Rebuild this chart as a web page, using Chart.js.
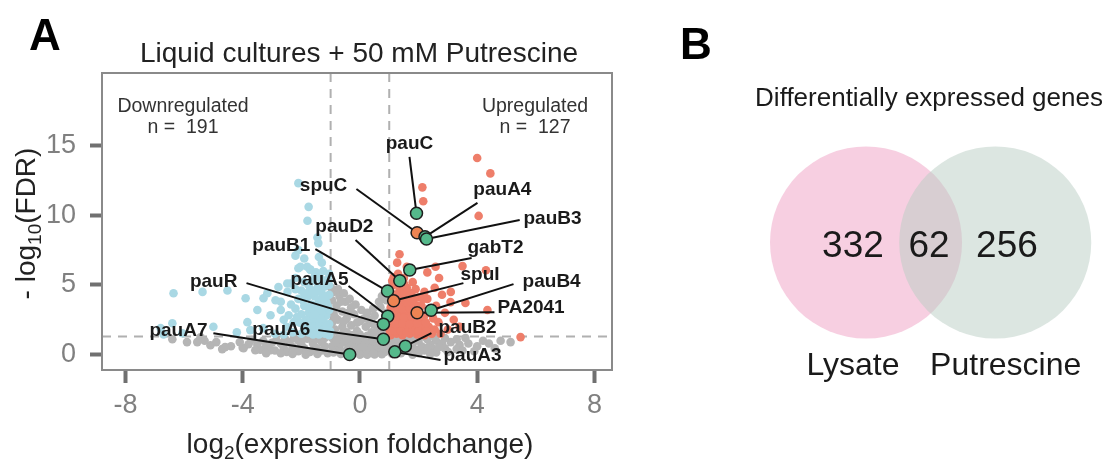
<!DOCTYPE html>
<html>
<head>
<meta charset="utf-8">
<script src="https://cdn.jsdelivr.net/npm/chart.js@4.4.1/dist/chart.umd.min.js"></script>
<style>
  html, body { margin: 0; padding: 0; background: #fff; }
  #wrap { position: relative; width: 1114px; height: 459px; overflow: hidden; }
  #volcano { position: absolute; left: 0; top: 0; }
  #venn { position: absolute; left: 650px; top: 0; }
</style>
</head>
<body>
<div id="wrap">
  <canvas id="volcano" width="650" height="459"></canvas>
  <canvas id="venn" width="464" height="459"></canvas>
</div>
<script>
/* panel A: volcano plot */
const FONT = '"Liberation Sans", Arial, sans-serif';
Chart.defaults.font.family = FONT;

const xTicks = [-8, -4, 0, 4, 8];
const yTicks = [0, 5, 10, 15];
const fcCut = 1;
const fdrCut = 1.3;
const nDown = 191;
const nUp = 127;

// non significant genes [log2FC, -log10 FDR]
const greyPts = [
  [-0.9,4.5],[-0.7,4.2],[-0.95,3.9],[-0.5,3.8],[-0.8,3.5],[-0.3,3.4],[-0.6,3.1],[-0.9,3.0],[-0.2,2.9],
  [-0.45,2.6],[-0.75,2.5],[0.0,2.4],[-0.95,2.3],[-0.3,2.1],[-0.6,2.0],[0.2,2.0],[-0.85,1.8],[-0.1,1.7],
  [-0.45,1.6],[0.4,1.6],[0.6,1.9],[0.8,2.4],[0.9,3.0],[0.7,3.4],[0.9,3.9],[0.85,4.4],[0.5,2.8],[0.3,2.5],
  [0.75,1.6],[0.95,1.3],[-0.95,1.2],[-0.7,1.3],[-0.4,1.2],[-0.15,1.1],[0.1,1.2],[0.35,1.1],[0.6,1.2],
  [0.85,1.0],[-0.85,0.9],[-0.55,0.9],[-0.25,0.8],[0.05,0.8],[0.3,0.7],[0.55,0.8],[0.8,0.7],[-0.95,0.6],
  [-0.7,0.6],[-0.4,0.5],[-0.1,0.45],[0.2,0.4],[0.45,0.5],[0.7,0.4],[0.95,0.5],[-0.8,0.3],[-0.5,0.25],
  [-0.2,0.15],[0.1,0.1],[0.35,0.2],[0.6,0.15],[0.85,0.2],[-0.65,0.05],[-0.3,0.0],[0.0,0.0],[0.25,0.0],
  [0.5,0.02],[0.75,0.03],
  [-0.98,4.8],[-0.75,4.7],[-0.55,4.4],[-0.35,4.0],[-0.15,3.6],[0.05,3.2],[0.25,3.0],[0.45,3.3],[0.65,3.8],
  [0.95,4.7],[0.75,4.2],[-0.65,3.8],[-0.4,3.0],[-0.85,2.7],[-0.55,2.4],[-0.1,2.3],[0.15,2.6],[0.45,2.2],
  [0.7,2.1],[0.92,2.0],[-0.95,1.55],[-0.6,1.5],[-0.3,1.4],[0.0,1.45],[0.25,1.35],[0.5,1.45],[0.75,1.35],
  [-0.8,1.05],[-0.45,1.0],[0.0,0.95],[0.2,0.85],[0.45,0.95],[0.65,1.0],[0.95,0.8],[-0.3,0.6],[0.1,0.6],
  [0.35,0.4],[0.85,0.45],[-0.9,0.15],[0.45,0.1],
  [-1.2,1.2],[-1.5,1.1],[-1.8,1.15],[-2.1,1.0],[-1.3,0.9],[-1.6,0.8],[-2.0,0.75],[-2.4,0.9],[-2.7,0.8],
  [-3.0,0.85],[-1.2,0.6],[-1.5,0.5],[-1.9,0.45],[-2.3,0.55],[-2.6,0.5],[-3.2,0.6],[-3.5,0.7],[-3.8,0.75],
  [-1.3,0.3],[-1.7,0.2],[-2.1,0.25],[-2.9,0.3],[-3.4,0.35],[-4.0,0.5],[-4.4,0.6],[-4.7,0.4],[-5.1,0.68],
  [-5.55,0.9],[-5.44,1.25],[-5.9,0.9],[-6.4,1.1],[-1.1,0.1],[-2.5,0.2],[-3.05,0.32],[-3.57,0.32],
  [-3.97,0.46],[-4.6,0.54],
  [-1.4,1.3],[-1.65,1.25],[-1.95,1.25],[-2.25,1.2],[-2.55,1.1],[-2.85,1.05],[-3.3,1.0],[-3.7,1.05],
  [-4.1,0.9],[-4.9,0.9],[-5.3,1.0],[-1.45,0.05],[-1.85,0.0],[-2.3,0.05],[-2.7,0.1],[-3.2,0.1],
  [1.1,1.2],[1.4,1.1],[1.7,1.15],[2.0,1.0],[2.3,1.1],[2.6,1.0],[1.2,0.8],[1.5,0.7],[1.8,0.8],[2.1,0.6],
  [2.4,0.7],[2.8,0.8],[3.1,0.9],[3.4,0.7],[3.7,0.8],[1.3,0.4],[1.6,0.3],[1.9,0.35],[2.2,0.3],[2.5,0.4],
  [2.9,0.45],[3.3,0.4],[4.0,0.6],[4.4,0.8],[4.8,1.0],[5.14,0.9],[1.1,0.05],[1.4,0.1],[2.0,0.1],[2.6,0.15],
  [3.0,0.2],
  [1.25,1.3],[1.6,1.25],[1.95,1.3],[2.25,1.25],[2.55,1.25],[2.9,1.2],[3.3,1.1],[3.6,1.2],[4.2,1.0],
  [1.7,0.55],[2.3,0.5],[2.7,0.55],[3.5,0.3],[3.9,0.25],[1.8,0.0],[2.4,0.05],[1.15,0.6],[4.6,0.45]
];

// downregulated genes
const downPts = [
  [-1.05,1.4],[-1.2,1.5],[-1.4,1.45],[-1.1,1.8],[-1.3,1.9],[-1.55,1.7],[-1.75,1.6],[-1.05,2.2],[-1.25,2.4],
  [-1.45,2.2],[-1.65,2.1],[-1.9,1.9],[-1.15,2.8],[-1.35,2.9],[-1.6,2.6],[-1.85,2.5],[-2.05,2.3],[-1.05,3.2],
  [-1.25,3.4],[-1.5,3.2],[-1.75,3.0],[-2.0,2.9],[-1.15,3.8],[-1.4,3.9],[-1.65,3.6],[-1.9,3.5],[-2.2,3.3],
  [-1.05,4.3],[-1.3,4.4],[-1.55,4.2],[-1.8,4.1],[-2.1,4.0],[-1.2,4.9],[-1.45,4.8],[-1.7,4.7],[-2.0,4.6],
  [-1.1,5.4],[-1.35,5.5],[-1.6,5.3],[-1.9,5.2],[-1.25,6.0],[-1.5,5.9],[-1.8,6.3],[-1.7,6.1],
  [-1.02,1.7],[-1.15,2.05],[-1.35,2.6],[-1.55,2.9],[-1.8,2.2],[-2.0,1.5],[-1.1,3.5],[-1.3,3.15],
  [-1.45,3.55],[-1.7,3.3],[-1.95,3.9],[-1.2,4.15],[-1.4,4.6],[-1.65,4.45],[-1.9,4.4],[-2.2,4.7],
  [-1.05,5.0],[-1.3,5.2],[-1.55,5.6],[-1.75,5.0],[-2.2,5.5],[-1.05,5.8],[-1.6,1.45],[-2.15,2.7],
  [-2.35,3.6],[-2.6,2.5],
  [-2.3,1.6],[-2.5,2.0],[-2.43,2.83],[-2.26,2.33],[-2.7,3.8],[-2.7,3.2],[-2.88,3.9],[-3.05,2.83],
  [-3.16,4.4],[-3.29,4.05],[-2.78,4.85],[-2.48,5.1],[-2.37,5.1],[-2.47,4.5],[-2.1,6.2],[-3.5,3.2],
  [-3.84,2.33],[-3.74,1.76],[-3.9,4.05],[-2.9,1.5],[-3.3,1.9],[-2.6,1.45],
  [-4.52,4.6],[-5.37,4.5],[-6.36,4.4],[-6.8,1.9],[-6.7,1.45],[-6.06,1.54],[-6.4,2.25],[-4.2,1.6],[-5.0,2.0],
  [-2.1,12.3],[-1.75,10.6],[-1.79,9.6],[-1.45,8.4],[-1.42,8.0],[-2.1,7.5],[-2.2,7.1],[-1.9,6.9],
  [-1.4,7.0],[-1.3,6.6],[-2.03,6.3],[-1.69,6.1]
];

// upregulated genes
const upPts = [
  [4.0,14.1],[4.45,13.0],[2.13,12.0],[2.16,11.0],[4.05,9.95],
  [1.27,6.6],[2.3,5.9],[2.58,6.3],[3.5,6.35],[4.3,6.05],[1.15,5.55],[3.09,3.77],[3.6,3.7],[4.35,3.2],
  [5.48,1.26],[2.68,2.33],[1.35,7.2],
  [1.05,1.4],[1.25,1.5],[1.45,1.4],[1.7,1.5],[1.95,1.45],[2.2,1.4],[2.45,1.5],[1.1,1.9],[1.35,2.0],
  [1.6,1.85],[1.85,2.0],[2.1,1.9],[2.35,2.0],[1.05,2.4],[1.3,2.5],[1.55,2.4],[1.8,2.5],[2.05,2.45],
  [2.5,2.6],[1.15,2.9],[1.4,3.0],[1.65,2.9],[1.9,3.2],[2.2,2.8],[1.05,3.4],[1.3,3.5],[1.55,3.4],
  [1.8,3.6],[2.1,3.5],[2.6,3.5],[1.2,4.0],[1.45,4.1],[1.7,3.9],[2.0,4.1],[2.3,4.0],[1.05,4.5],
  [1.35,4.6],[1.6,4.5],[1.9,4.7],[2.2,4.5],[1.15,5.0],[1.5,5.1],[1.8,5.2],[1.3,5.8],[2.8,4.3],
  [2.9,3.0],[3.2,2.5],[3.0,1.8],[2.75,1.5],[3.4,2.0],[1.6,6.3],
  [1.02,1.7],[1.2,1.7],[1.4,1.7],[1.6,1.6],[1.8,1.75],[2.0,1.7],[2.25,1.65],[2.55,1.8],[1.2,2.2],
  [1.45,2.25],[1.7,2.2],[1.95,2.25],[2.25,2.3],[1.25,2.75],[1.5,2.65],[1.75,2.75],[2.0,2.8],[2.4,3.0],
  [1.05,3.0],[1.2,3.25],[1.45,3.3],[1.7,3.3],[1.95,3.5],[1.1,3.75],[1.35,3.8],[1.6,3.75],[1.85,4.0],
  [2.15,4.0],[1.25,4.3],[1.5,4.35],[1.75,4.4],[1.1,5.3],[1.35,5.0],[1.6,4.8],[2.55,4.8],[3.1,4.5],
  [2.7,5.5],[1.5,5.5]
];

// labelled genes
const geneNames = ['pauC','spuC','pauA4','pauB3','gabT2','pauD2','pauB1','spuI','pauB4','PA2041',
                   'pauA5','pauR','pauA6','pauB2','pauA3','pauA7'];
const geneX = [1.93, 1.95, 2.22, 2.27, 1.70, 1.36, 0.94, 1.15, 2.43, 1.95, 0.95, 0.80, 0.80, 1.55, 1.19, -0.35];
const geneY = [10.14, 8.74, 8.45, 8.30, 6.07, 5.30, 4.56, 3.86, 3.19, 3.00, 2.76, 2.19, 1.11, 0.61, 0.20, 0.01];
const geneOrange = [0, 1, 0, 0, 0, 0, 0, 1, 0, 1, 0, 0, 0, 0, 0, 0];

// label placement: [text x, text y, align, line start x, line start y]
const labelLayout = [
  [1.69, 15.11, 'center', 1.69, 14.18],
  [-0.43, 12.1, 'right', -0.12, 11.88],
  [3.87, 11.81, 'left', 4.01, 10.88],
  [5.58, 9.73, 'left', 5.45, 9.66],
  [3.67, 7.65, 'left', 3.81, 6.93],
  [-0.53, 9.15, 'center', -0.15, 8.22],
  [-1.69, 7.79, 'right', -1.52, 7.57],
  [3.43, 5.71, 'left', 3.53, 5.13],
  [5.55, 5.2, 'left', 5.24, 5.06],
  [4.69, 3.34, 'left', 4.59, 3.05],
  [-0.39, 5.35, 'right', -0.39, 4.92],
  [-4.18, 5.2, 'right', -3.87, 5.13],
  [-1.69, 1.76, 'right', -1.42, 1.76],
  [2.68, 1.9, 'left', 2.44, 1.54],
  [2.85, -0.11, 'left', 2.75, -0.39],
  [-5.2, 1.69, 'right', -5.0, 1.54]
];

const toXY = pts => pts.map(p => ({ x: p[0], y: p[1] }));

function drawSubText(ctx, parts, x, y) {
  let total = 0;
  parts.forEach(p => { ctx.font = p[1] + 'px ' + FONT; total += ctx.measureText(p[0]).width; });
  let cx = x - total / 2;
  ctx.textAlign = 'left';
  parts.forEach(p => {
    ctx.font = p[1] + 'px ' + FONT;
    ctx.fillText(p[0], cx, y + p[2]);
    cx += ctx.measureText(p[0]).width;
  });
}

const volcanoDecor = {
  id: 'volcanoDecor',
  beforeDatasetsDraw(chart) {
    const { ctx, chartArea: a, scales: { x, y } } = chart;
    ctx.save();
    ctx.strokeStyle = '#b0b0b0';
    ctx.lineWidth = 2;
    ctx.setLineDash([9, 7]);
    [-fcCut, fcCut].forEach(v => {
      const px = x.getPixelForValue(v);
      ctx.beginPath(); ctx.moveTo(px, a.top); ctx.lineTo(px, a.bottom); ctx.stroke();
    });
    const py = y.getPixelForValue(fdrCut);
    ctx.beginPath(); ctx.moveTo(a.left, py); ctx.lineTo(a.right, py); ctx.stroke();
    ctx.restore();
  },
  afterDatasetDraw(chart, args) {
    if (args.index !== 1) return;
    const { ctx, scales: { x, y } } = chart;
    ctx.save();
    ctx.strokeStyle = '#111';
    ctx.lineWidth = 2;
    geneNames.forEach((g, i) => {
      const l = labelLayout[i];
      ctx.beginPath();
      ctx.moveTo(x.getPixelForValue(l[3]), y.getPixelForValue(l[4]));
      ctx.lineTo(x.getPixelForValue(geneX[i]), y.getPixelForValue(geneY[i]));
      ctx.stroke();
    });
    ctx.restore();
  },
  afterDraw(chart) {
    const { ctx, chartArea: a, scales: { x, y } } = chart;
    ctx.save();
    // panel border
    ctx.strokeStyle = '#8a8a8a';
    ctx.lineWidth = 2;
    ctx.strokeRect(a.left, a.top, a.right - a.left, a.bottom - a.top);

    // gene labels
    ctx.fillStyle = '#1a1a1a';
    ctx.font = 'bold 19px ' + FONT;
    ctx.textBaseline = 'middle';
    geneNames.forEach((g, i) => {
      const l = labelLayout[i];
      ctx.textAlign = l[2];
      ctx.fillText(g, x.getPixelForValue(l[0]), y.getPixelForValue(l[1]));
    });

    // counts
    ctx.textBaseline = 'alphabetic';
    ctx.textAlign = 'center';
    ctx.fillStyle = '#333';
    ctx.font = '19.5px ' + FONT;
    ctx.fillText('Downregulated', a.left + 81, a.top + 39);
    ctx.fillText('n =  ' + nDown, a.left + 81, a.top + 60);
    ctx.fillText('Upregulated', a.right - 77, a.top + 39);
    ctx.fillText('n =  ' + nUp, a.right - 77, a.top + 60);

    // title and panel letter
    ctx.fillStyle = '#222';
    ctx.font = '28px ' + FONT;
    ctx.fillText('Liquid cultures + 50 mM Putrescine', 359, 62);
    ctx.textAlign = 'left';
    ctx.fillStyle = '#000';
    ctx.font = 'bold 44px ' + FONT;
    ctx.fillText('A', 29, 50);

    // axis titles
    ctx.fillStyle = '#222';
    drawSubText(ctx, [['log', 28, 0], ['2', 19, 6], ['(expression foldchange)', 28, 0]], 360, 453);
    ctx.translate(35, (a.top + a.bottom) / 2 + 2);
    ctx.rotate(-Math.PI / 2);
    drawSubText(ctx, [['- log', 28, 0], ['10', 19, 6], ['(FDR)', 28, 0]], 0, 0);
    ctx.restore();
  }
};

const volcanoChart = new Chart(document.getElementById('volcano'), {
  type: 'scatter',
  data: {
    datasets: [
      {
        label: 'labelled',
        data: geneNames.map((g, i) => ({ x: geneX[i], y: geneY[i] })),
        backgroundColor: geneOrange.map(o => o ? '#ee8453' : '#55b98b'),
        borderColor: '#1e1e1e',
        borderWidth: 1.5,
        pointRadius: 6,
        order: 0
      },
      { label: 'up', data: toXY(upPts), backgroundColor: '#ee7e6a', borderWidth: 0, pointRadius: 4.3, order: 1 },
      { label: 'down', data: toXY(downPts), backgroundColor: '#a9d8e4', borderWidth: 0, pointRadius: 4.3, order: 2 },
      { label: 'ns', data: toXY(greyPts), backgroundColor: '#b5b5b5', borderWidth: 0, pointRadius: 4.3, order: 3 }
    ]
  },
  options: {
    responsive: false,
    animation: false,
    layout: { padding: { left: 0, top: 73, right: 38, bottom: 0 } },
    plugins: { legend: { display: false }, tooltip: { enabled: false } },
    scales: {
      x: {
        min: -8.8, max: 8.6,
        afterBuildTicks: s => { s.ticks = xTicks.map(v => ({ value: v })); },
        afterFit: s => { s.height = 89; },
        ticks: { color: '#808080', font: { size: 27 }, padding: 6, maxRotation: 0 },
        grid: { drawOnChartArea: false, drawTicks: true, tickLength: 13, tickWidth: 4, tickColor: '#707070' },
        border: { display: false }
      },
      y: {
        min: -1.1, max: 20.2,
        afterBuildTicks: s => { s.ticks = yTicks.map(v => ({ value: v })); },
        afterFit: s => { s.width = 102; },
        ticks: { color: '#808080', font: { size: 27 }, padding: 14 },
        grid: { drawOnChartArea: false, drawTicks: true, tickLength: 12, tickWidth: 4, tickColor: '#707070' },
        border: { display: false }
      }
    }
  },
  plugins: [volcanoDecor]
});
/* panel A end */

/* panel B: venn */
const vennSets = ['Lysate', 'Putrescine'];
const vennOnly = [332, 256];
const vennShared = 62;
const vennCenters = [-0.673, 0.673];

const vennDecor = {
  id: 'vennDecor',
  afterDraw(chart) {
    const { ctx, scales: { x, y } } = chart;
    ctx.save();
    ctx.fillStyle = '#1a1a1a';
    ctx.textAlign = 'center';
    ctx.font = '26px ' + FONT;
    ctx.fillText('Differentially expressed genes', x.getPixelForValue(-0.017), y.getPixelForValue(1.422));
    ctx.font = '37px ' + FONT;
    ctx.fillText(String(vennOnly[0]), x.getPixelForValue(-0.809), y.getPixelForValue(-0.148));
    ctx.fillText(String(vennShared), x.getPixelForValue(-0.017), y.getPixelForValue(-0.148));
    ctx.fillText(String(vennOnly[1]), x.getPixelForValue(0.795), y.getPixelForValue(-0.148));
    ctx.font = '32px ' + FONT;
    ctx.fillText(vennSets[0], x.getPixelForValue(-0.809), y.getPixelForValue(-1.38));
    ctx.fillText(vennSets[1], x.getPixelForValue(0.782), y.getPixelForValue(-1.38));
    ctx.textAlign = 'left';
    ctx.fillStyle = '#000';
    ctx.font = 'bold 44px ' + FONT;
    ctx.fillText('B', x.getPixelForValue(-2.61), y.getPixelForValue(1.911));
    ctx.restore();
  }
};

// circle radius = one unit on the x scale
const unitRadius = ctx => ctx.chart.scales.x.getPixelForValue(1) - ctx.chart.scales.x.getPixelForValue(0);

const vennChart = new Chart(document.getElementById('venn'), {
  type: 'scatter',
  data: {
    datasets: [
      { label: vennSets[1], data: [{ x: vennCenters[1], y: 0 }], backgroundColor: 'rgba(185,205,195,0.5)',
        borderWidth: 0, pointRadius: unitRadius, order: 0 },
      { label: vennSets[0], data: [{ x: vennCenters[0], y: 0 }], backgroundColor: 'rgba(240,160,195,0.5)',
        borderWidth: 0, pointRadius: unitRadius, order: 1 }
    ]
  },
  options: {
    responsive: false,
    animation: false,
    clip: false,
    layout: { padding: 0 },
    plugins: { legend: { display: false }, tooltip: { enabled: false } },
    scales: {
      x: { display: false, min: -2.923, max: 1.910 },
      y: { display: false, min: -2.255, max: 2.526 }
    }
  },
  plugins: [vennDecor]
});
/* panel B end */
</script>
</body>
</html>
